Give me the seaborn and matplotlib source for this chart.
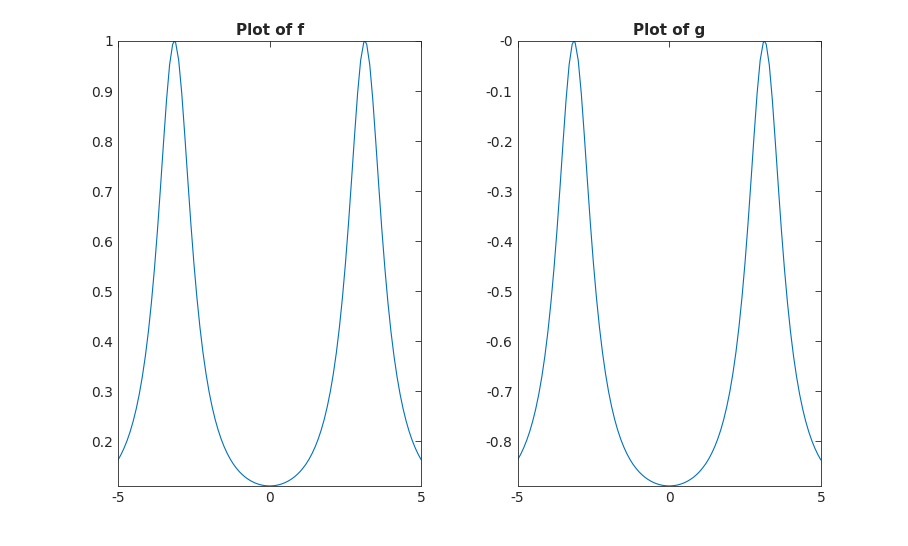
import numpy as np
import pandas as pd
import matplotlib
matplotlib.use("Agg")
import matplotlib.pyplot as plt
import seaborn as sns

# x from 0 to 5 step 0.1 (curve is symmetric), plus peak point at pi
x_half = [0.0,0.1,0.2,0.3,0.4,0.5,0.6,0.7,0.8,0.9,1.0,1.1,1.2,1.3,1.4,1.5,1.6,1.7,1.8,1.9,
          2.0,2.1,2.2,2.3,2.4,2.5,2.6,2.7,2.8,2.9,3.0,3.1,3.14159,3.2,3.3,3.4,3.5,3.6,3.7,3.8,3.9,
          4.0,4.1,4.2,4.3,4.4,4.5,4.6,4.7,4.8,4.9,5.0]
f_half = [.1111,.1114,.1121,.1134,.1152,.1175,.1205,.1241,.1284,.1336,.1396,.1468,.1550,.1647,.1761,
          .1893,.2048,.2230,.2444,.2698,.2998,.3355,.3779,.4283,.4878,.5569,.6361,.7228,.8122,.8961,
          .9615,.9964,1.0,.9932,.9524,.8829,.7974,.7077,.6220,.5447,.4771,.4191,.3702,.3291,.2944,
          .2652,.2406,.2197,.2020,.1869,.1740,.1630]
g_half = [-.8889,-.8886,-.8879,-.8866,-.8848,-.8825,-.8795,-.8759,-.8716,-.8664,-.8604,-.8532,-.8450,
          -.8353,-.8239,-.8107,-.7952,-.7770,-.7556,-.7302,-.7002,-.6645,-.6221,-.5717,-.5122,-.4431,
          -.3639,-.2772,-.1878,-.1039,-.0385,-.0036,0.0,-.0068,-.0476,-.1171,-.2026,-.2923,-.3780,
          -.4553,-.5229,-.5809,-.6298,-.6709,-.7056,-.7348,-.7594,-.7803,-.7980,-.8131,-.8260,-.8370]

x = [-v for v in x_half[::-1]] + x_half[1:]
f = f_half[::-1] + f_half[1:]
g = g_half[::-1] + g_half[1:]
df = pd.DataFrame({"x": x, "f": f, "g": g})

sns.set_style("white")
plt.rcParams['font.family'] = ['DejaVu Sans']
fig = plt.figure(figsize=(9.08, 5.46), dpi=100)
specs = [([0.130, 0.110, 0.334, 0.815], "f", "Plot of f", (0.1111, 1.0), np.arange(0.2, 1.01, 0.1)),
         ([0.570, 0.110, 0.334, 0.815], "g", "Plot of g", (-0.8889, 0.0), np.arange(-0.8, 0.01, 0.1))]
for rect, col, title, ylim, yt in specs:
    ax = fig.add_axes(rect)
    sns.lineplot(data=df, x="x", y=col, ax=ax, color="#0072BD", linewidth=0.8, sort=False)
    ax.set_xlim(-5, 5)
    ax.set_ylim(*ylim)
    ax.set_xticks([-5, 0, 5])
    ax.set_xticklabels(["-5", "0", "5"])
    ax.set_yticks(yt)
    ax.set_yticklabels([("%g" % round(v, 1)) for v in yt])
    ax.tick_params(direction="in", length=4, top=True, right=True, labelsize=10, color="#262626", width=0.6)
    for s in ax.spines.values():
        s.set_color("#262626"); s.set_linewidth(0.6)
    ax.set_xlabel(""); ax.set_ylabel("")
    ax.set_title(title, fontsize=11, fontweight="bold", pad=4)
fig.savefig("out.png", dpi=100)
